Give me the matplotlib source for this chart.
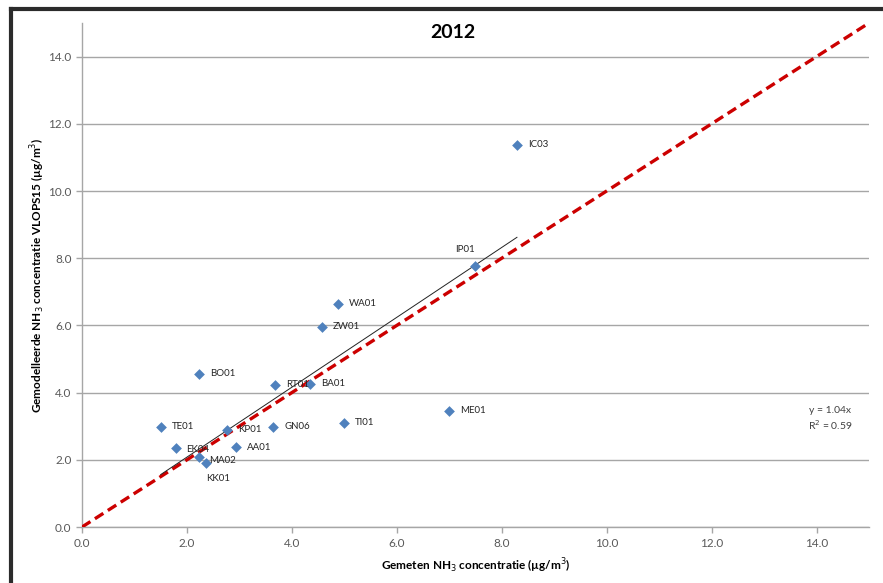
import matplotlib
matplotlib.use("Agg")
import matplotlib.pyplot as plt
from matplotlib.lines import Line2D
import numpy as np

plt.rcParams['font.family'] = ['Lato', 'DejaVu Sans']

# measured vs modelled NH3 concentration per station, 2012
stations = ["IC03", "IP01", "WA01", "ZW01", "BO01", "RT01", "BA01", "ME01",
            "TE01", "GN06", "TI01", "KP01", "AA01", "EK04", "MA02", "KK01"]
measured = [8.29, 7.49, 4.88, 4.57, 2.23, 3.68, 4.34, 6.99,
            1.50, 3.64, 4.99, 2.76, 2.93, 1.79, 2.23, 2.36]
modelled = [11.38, 7.77, 6.64, 5.96, 4.56, 4.23, 4.26, 3.46,
            2.98, 2.98, 3.10, 2.89, 2.38, 2.35, 2.09, 1.91]
slope = 1.04
r2 = 0.59

# label offsets in points (dx, dy)
offsets = {"IP01": (-14, 12), "KK01": (0, -11), "MA02": (7, -3), "EK04": (7, -1)}

fig = plt.figure(figsize=(8.83, 5.83), dpi=100)
ax = fig.add_axes([82 / 883, 56 / 583, 787 / 883, 504 / 583])

ticks = np.arange(0, 15, 2)
ax.set_xlim(0, 15)
ax.set_ylim(0, 15)
ax.set_xticks(ticks)
ax.set_yticks(ticks)
ax.set_xticklabels([f"{v:.1f}" for v in ticks])
ax.set_yticklabels([f"{v:.1f}" for v in ticks])
ax.yaxis.grid(True, color="#a6a6a6", linewidth=1.0)
ax.set_axisbelow(True)
for side in ["top", "right"]:
    ax.spines[side].set_visible(False)
for side in ["left", "bottom"]:
    ax.spines[side].set_color("#a6a6a6")
    ax.spines[side].set_linewidth(1.0)
ax.tick_params(axis="both", colors="#a6a6a6", labelcolor="#595959",
               labelsize=8.5, length=4, width=1.0)
ax.tick_params(axis="x", pad=4)

# 1:1 line
ax.plot([0, 15], [0, 15], color="#cc0000", linewidth=2.4, linestyle=(0, (3, 1.6)), zorder=3)

# trend line through origin over the data range
xt = np.array([min(measured), max(measured)])
ax.plot(xt, slope * xt, color="#222222", linewidth=0.7, zorder=3)

ax.scatter(measured, modelled, marker="D", s=30, color="#4f81bd", zorder=4, linewidths=0)
for name, x, y in zip(stations, measured, modelled):
    dx, dy = offsets.get(name, (8, 0))
    ax.annotate(name, (x, y), xytext=(dx, dy), textcoords="offset points",
                fontsize=7, color="#262626", va="center", ha="left", zorder=5)

ax.text(830 / 883, 1 - 419 / 583, f"y = {slope:.2f}x\nR$^2$ = {r2:.2f}", transform=fig.transFigure,
        fontsize=7.5, color="#404040", ha="center", va="center", linespacing=1.3)

fig.text(453 / 883, 1 - 32 / 583, "2012", fontsize=14, fontweight="bold", ha="center", va="center")
ax.set_xlabel("Gemeten NH$_3$ concentratie (µg/m$^3$)", fontsize=8.5, fontweight="bold", labelpad=5)
ax.set_ylabel("Gemodelleerde NH$_3$ concentratie VLOPS15 (µg/m$^3$)", fontsize=8.5,
              fontweight="bold", labelpad=1)

# dark chart border along top and left
fig.add_artist(Line2D([11 / 883, 1.0], [1 - 9 / 583, 1 - 9 / 583], transform=fig.transFigure,
                      color="#2b2b2b", linewidth=3))
fig.add_artist(Line2D([11 / 883, 11 / 883], [0, 1 - 9 / 583], transform=fig.transFigure,
                      color="#2b2b2b", linewidth=3))

fig.savefig("out.png", dpi=100)
